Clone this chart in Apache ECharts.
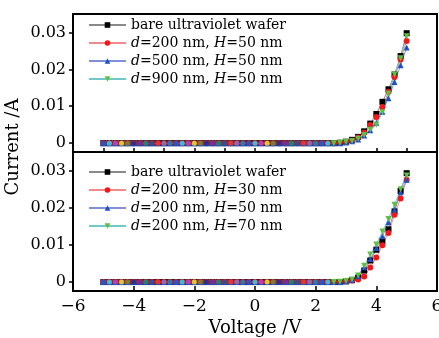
<!DOCTYPE html>
<html>
<head>
<meta charset="utf-8">
<script src="https://cdn.jsdelivr.net/npm/echarts@6/dist/echarts.min.js"></script>
<style>
  html, body { margin: 0; padding: 0; background: #fff; }
  #chart { width: 439px; height: 338px; }
</style>
</head>
<body>
<div id="chart"></div>
<script>
// voltage (V), step 0.2
const voltage = [
  -5, -4.8, -4.6, -4.4, -4.2, -4, -3.8, -3.6, -3.4, -3.2,
  -3, -2.8, -2.6, -2.4, -2.2, -2, -1.8, -1.6, -1.4, -1.2,
  -1, -0.8, -0.6, -0.4, -0.2, 0, 0.2, 0.4, 0.6, 0.8,
  1, 1.2, 1.4, 1.6, 1.8, 2, 2.2, 2.4, 2.6, 2.8,
  3, 3.2, 3.4, 3.6, 3.8, 4, 4.2, 4.4, 4.6, 4.8, 5
]

// top panel: different d, H = 50 nm
const topNames = ['bare ultraviolet wafer', 'd=200 nm, H=50 nm', 'd=500 nm, H=50 nm', 'd=900 nm, H=50 nm']
const topBare = [
  0, 0, 0, 0, 0, 0, 0, 0, 0, 0, 0, 0, 0, 0, 0, 0, 0, 0, 0, 0,
  0, 0, 0, 0, 0, 0, 0, 0, 0, 0, 0, 0, 0, 0, 0, 0, 0, 0,
  0, 0.0001, 0.0004, 0.0009, 0.0017, 0.0032, 0.0053, 0.0079, 0.0112, 0.0146, 0.0186, 0.0236, 0.0298
]
const topD200 = [
  0, 0, 0, 0, 0, 0, 0, 0, 0, 0, 0, 0, 0, 0, 0, 0, 0, 0, 0, 0,
  0, 0, 0, 0, 0, 0, 0, 0, 0, 0, 0, 0, 0, 0, 0, 0, 0, 0,
  0, 0.0001, 0.0003, 0.0007, 0.0015, 0.0028, 0.0049, 0.0071, 0.0098, 0.0139, 0.0179, 0.0227, 0.0277
]
const topD500 = [
  0, 0, 0, 0, 0, 0, 0, 0, 0, 0, 0, 0, 0, 0, 0, 0, 0, 0, 0, 0,
  0, 0, 0, 0, 0, 0, 0, 0, 0, 0, 0, 0, 0, 0, 0, 0, 0, 0,
  0, 0, 0.0002, 0.0005, 0.0010, 0.0021, 0.0035, 0.0055, 0.0085, 0.0122, 0.0166, 0.0211, 0.0259
]
const topD900 = [
  0, 0, 0, 0, 0, 0, 0, 0, 0, 0, 0, 0, 0, 0, 0, 0, 0, 0, 0, 0,
  0, 0, 0, 0, 0, 0, 0, 0, 0, 0, 0, 0, 0, 0, 0, 0, 0, 0,
  0, 0.0001, 0.0003, 0.0006, 0.0012, 0.0022, 0.0036, 0.0050, 0.0084, 0.0134, 0.0186, 0.0230, 0.0290
]

// bottom panel: d = 200 nm, different H (trailing space keeps legend names apart)
const botNames = ['bare ultraviolet wafer ', 'd=200 nm, H=30 nm', 'd=200 nm, H=50 nm ', 'd=200 nm, H=70 nm']
const botBare = [
  0, 0, 0, 0, 0, 0, 0, 0, 0, 0, 0, 0, 0, 0, 0, 0, 0, 0, 0, 0,
  0, 0, 0, 0, 0, 0, 0, 0, 0, 0, 0, 0, 0, 0, 0, 0, 0, 0,
  0, 0, 0.0002, 0.0005, 0.0012, 0.0031, 0.0058, 0.0087, 0.0110, 0.0142, 0.0190, 0.0245, 0.0293
]
const botH30 = [
  0, 0, 0, 0, 0, 0, 0, 0, 0, 0, 0, 0, 0, 0, 0, 0, 0, 0, 0, 0,
  0, 0, 0, 0, 0, 0, 0, 0, 0, 0, 0, 0, 0, 0, 0, 0, 0, 0,
  0, 0, 0.0002, 0.0004, 0.0007, 0.0015, 0.0039, 0.0066, 0.0099, 0.0132, 0.0181, 0.0225, 0.0275
]
const botH50 = [
  0, 0, 0, 0, 0, 0, 0, 0, 0, 0, 0, 0, 0, 0, 0, 0, 0, 0, 0, 0,
  0, 0, 0, 0, 0, 0, 0, 0, 0, 0, 0, 0, 0, 0, 0, 0, 0, 0,
  0, 0, 0.0002, 0.0006, 0.0016, 0.0040, 0.0062, 0.0092, 0.0123, 0.0161, 0.0195, 0.0242, 0.0275
]
const botH70 = [
  0, 0, 0, 0, 0, 0, 0, 0, 0, 0, 0, 0, 0, 0, 0, 0, 0, 0, 0, 0,
  0, 0, 0, 0, 0, 0, 0, 0, 0, 0, 0, 0, 0, 0, 0, 0, 0, 0,
  0, 0.0001, 0.0003, 0.0007, 0.0018, 0.0044, 0.0074, 0.0101, 0.0136, 0.0170, 0.0208, 0.0250, 0.0287
]

const yTicks = [0, 0.01, 0.02, 0.03]

const font = "'DejaVu Serif', 'Liberation Serif', serif"
const markColors = ['#000000', '#f01818', '#1f4fc0', '#5cc040']
const lineColors = ['#8a8a8a', '#f28a8a', '#8090d8', '#70c8c8']
const symbols = ['rect', 'circle', 'triangle', 'triangle']
const rotates = [0, 0, 0, 180]
// the overlapping markers along the flat part look multicoloured in the original
const flatColors = ['#3050c8', '#40b8d8', '#b040b8', '#d8c838', '#7a7a3a', '#2a3090', '#6a30a0', '#208080', '#3a4a90', '#d83838', '#8a6ab8', '#2a7ab0']

const chart = echarts.init(document.getElementById('chart'))

function makeSeries(names, arrays, idx) {
  return arrays.map((arr, i) => ({
    name: names[i],
    type: 'line',
    xAxisIndex: idx,
    yAxisIndex: idx,
    data: voltage.map((v, k) => {
      if (i === arrays.length - 1 && v < 2.5) {
        return {
          value: [v, arr[k]],
          symbol: 'circle',
          symbolRotate: 0,
          symbolSize: 5,
          itemStyle: { color: flatColors[k % flatColors.length] }
        }
      }
      return [v, arr[k]]
    }),
    symbol: symbols[i],
    symbolRotate: rotates[i],
    symbolSize: 6,
    showAllSymbol: true,
    animation: false,
    itemStyle: { color: markColors[i] },
    lineStyle: { color: lineColors[i], width: 1 }
  }))
}

function legendFmt(name) {
  return name.replace(/^d=/, '{i|d}=').replace(/H=/, '{i|H}=').trim()
}

function makeLegend(names, top) {
  return {
    orient: 'vertical',
    left: 88,
    top: top,
    padding: 0,
    itemWidth: 37,
    itemHeight: 7,
    itemGap: 2,
    data: names,
    formatter: legendFmt,
    textStyle: {
      fontFamily: font,
      fontSize: 14,
      lineHeight: 16,
      color: '#000',
      rich: { i: { fontFamily: font, fontStyle: 'italic', fontSize: 14, color: '#000' } }
    }
  }
}

function makeY(idx) {
  return {
    type: 'value',
    gridIndex: idx,
    min: -0.0024,
    max: 0.035,
    axisLine: { show: true, onZero: false, lineStyle: { color: '#000', width: 2 } },
    axisTick: { show: true, inside: false, length: 4, customValues: yTicks, lineStyle: { color: '#000', width: 1.5 } },
    axisLabel: {
      customValues: yTicks,
      margin: 7,
      fontFamily: font,
      fontSize: 16,
      color: '#000',
      formatter: v => v === 0 ? '0' : v.toFixed(2)
    },
    splitLine: { show: false }
  }
}

const option = {
  backgroundColor: '#fff',
  animation: false,
  grid: [
    { left: 73, top: 14, width: 364, height: 138, show: true, borderColor: '#000', borderWidth: 2, outerBoundsMode: 'none' },
    { left: 73, top: 152, width: 364, height: 139, show: true, borderColor: '#000', borderWidth: 2, outerBoundsMode: 'none' }
  ],
  xAxis: [
    {
      type: 'value', gridIndex: 0, min: -6, max: 6, interval: 1,
      axisLine: { show: true, onZero: false, lineStyle: { color: '#000', width: 2 } },
      axisTick: { show: true, inside: true, length: 4, lineStyle: { color: '#000', width: 1.5 } },
      axisLabel: { show: false },
      splitLine: { show: false }
    },
    {
      type: 'value', gridIndex: 1, min: -6, max: 6, interval: 2,
      axisLine: { show: true, onZero: false, lineStyle: { color: '#000', width: 2 } },
      axisTick: { show: true, inside: true, length: 5, lineStyle: { color: '#000', width: 1.5 } },
      axisLabel: {
        margin: 7, fontFamily: font, fontSize: 17, color: '#000',
        formatter: v => v < 0 ? '\u2212' + Math.abs(v) : String(v)
      },
      splitLine: { show: false },
      name: 'Voltage /V',
      nameLocation: 'middle',
      nameGap: 28,
      nameTextStyle: { fontFamily: font, fontSize: 18, color: '#000' }
    }
  ],
  yAxis: [makeY(0), makeY(1)],
  legend: [makeLegend(topNames, 17), makeLegend(botNames, 164)],
  graphic: [
    {
      type: 'text',
      x: 13,
      y: 147,
      rotation: Math.PI / 2,
      style: {
        text: 'Current /A',
        fontFamily: font,
        fontSize: 18,
        fill: '#000',
        align: 'center',
        verticalAlign: 'middle'
      }
    }
  ],
  series: [
    ...makeSeries(topNames, [topBare, topD200, topD500, topD900], 0),
    ...makeSeries(botNames, [botBare, botH30, botH50, botH70], 1)
  ]
}

chart.setOption(option)
</script>
</body>
</html>
